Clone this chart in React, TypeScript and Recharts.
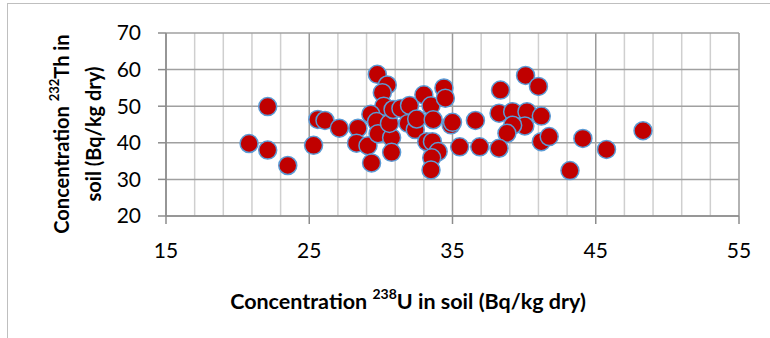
import { ScatterChart, Scatter, XAxis, YAxis, CartesianGrid } from 'recharts'

// 238U vs 232Th concentration in soil (Bq/kg dry)
const uConc = [
  20.8, 22.1, 22.1, 23.5, 25.3, 25.6, 26.1, 27.1, 28.4, 28.3,
  29.1, 29.35, 29.75, 30.45, 30.1, 30.2, 29.3, 29.7, 29.8, 30.75,
  30.75, 30.6, 30.85, 31.4, 32.0, 31.9, 32.4, 32.5, 33.0, 33.5,
  33.65, 34.4, 34.5, 33.2, 33.6, 34.0, 33.55, 33.5, 34.9, 35.0,
  35.5, 36.6, 36.9, 38.35, 38.25, 39.2, 40.2, 41.2, 40.05, 39.2,
  38.8, 38.25, 40.1, 41.0, 41.2, 41.75, 44.1, 45.75, 48.3, 43.2,
]
const thConc = [
  39.8, 49.9, 38.0, 33.8, 39.3, 46.4, 46.1, 44.0, 44.0, 39.9,
  39.2, 34.5, 58.7, 55.8, 53.7, 50.0, 47.8, 45.8, 42.5, 41.4,
  37.4, 45.3, 49.1, 49.4, 50.2, 45.3, 43.6, 46.5, 53.1, 50.1,
  46.3, 55.0, 52.2, 40.3, 40.3, 37.6, 35.9, 32.6, 44.9, 45.6,
  38.9, 46.1, 38.9, 54.4, 48.1, 48.5, 48.5, 47.3, 44.6, 44.8,
  42.6, 38.5, 58.4, 55.4, 40.3, 41.7, 41.2, 38.2, 43.3, 32.4,
]

const xTicks = [15, 25, 35, 45, 55]
const xMinor = [17, 19, 21, 23, 27, 29, 31, 33, 37, 39, 41, 43, 47, 49, 51, 53]
const xMajor = [15, 25, 35, 45, 55]
const yTicks = [20, 30, 40, 50, 60, 70]

const points = uConc.map((u, i) => ({ u, th: thConc[i] }))

const FONT = 'Lato, "Open Sans", sans-serif'
const W = 770
const H = 338

function Dot(props: any) {
  const { cx, cy } = props
  if (cx == null || cy == null) return null
  return <circle cx={cx} cy={cy} r={9} fill="#C00000" stroke="#5B9BD5" strokeWidth={1.5} />
}

function YTitle() {
  return (
    <g fontFamily={FONT} fontWeight="bold" fontSize={20} fill="#000">
      <text x={61} y={134} transform="rotate(-90 61 134)" textAnchor="middle" dominantBaseline="central">
        Concentration <tspan dy={-7} fontSize={13}>232</tspan>
        <tspan dy={7}>Th in</tspan>
      </text>
      <text x={93} y={134} transform="rotate(-90 93 134)" textAnchor="middle" dominantBaseline="central">
        soil (Bq/kg dry)
      </text>
    </g>
  )
}

function XTitle() {
  return (
    <text x={408} y={301} textAnchor="middle" dominantBaseline="central" fontFamily={FONT} fontWeight="bold" fontSize={21.5} fill="#000">
      Concentration <tspan dy={-8} fontSize={14}>238</tspan>
      <tspan dy={8}>U in soil (Bq/kg dry)</tspan>
    </text>
  )
}

export default function App() {
  return (
    <div style={{ position: 'absolute', left: 0, top: 0, width: W, height: H, background: '#fff', overflow: 'hidden' }}>
      <div
        style={{
          position: 'absolute',
          left: 7,
          top: 3,
          width: W,
          height: H,
          border: '1px solid #bfbfbf',
        }}
      />
      <ScatterChart width={W} height={H} margin={{ top: 33, right: 31, bottom: 0, left: 0 }} style={{ position: 'absolute', left: 0, top: 0 }}>
        <CartesianGrid horizontal={false} verticalValues={xMinor} stroke="#cfcfcf" strokeWidth={1.5} />
        <CartesianGrid horizontal={false} verticalValues={xMajor} stroke="#9a9a9a" strokeWidth={1.5} />
        <CartesianGrid vertical={false} horizontalValues={yTicks} stroke="#a0a0a0" strokeWidth={1.5} />
        <XAxis
          type="number"
          dataKey="u"
          domain={[15, 55]}
          ticks={xTicks}
          allowDataOverflow
          height={122}
          tickSize={8}
          tickMargin={19}
          axisLine={{ stroke: '#8c8c8c', strokeWidth: 1.5 }}
          tickLine={{ stroke: '#8c8c8c', strokeWidth: 1.5 }}
          tick={{ fontFamily: FONT, fontSize: 21, fill: '#000' }}
          label={{ content: () => <XTitle /> }}
        />
        <YAxis
          type="number"
          dataKey="th"
          domain={[20, 70]}
          ticks={yTicks}
          allowDataOverflow
          width={166}
          tickSize={8}
          tickMargin={17}
          axisLine={{ stroke: '#8c8c8c', strokeWidth: 1.5 }}
          tickLine={{ stroke: '#8c8c8c', strokeWidth: 1.5 }}
          tick={{ fontFamily: FONT, fontSize: 21, fill: '#000' }}
          label={{ content: () => <YTitle /> }}
        />
        <Scatter data={points} shape={<Dot />} isAnimationActive={false} />
      </ScatterChart>
    </div>
  )
}
